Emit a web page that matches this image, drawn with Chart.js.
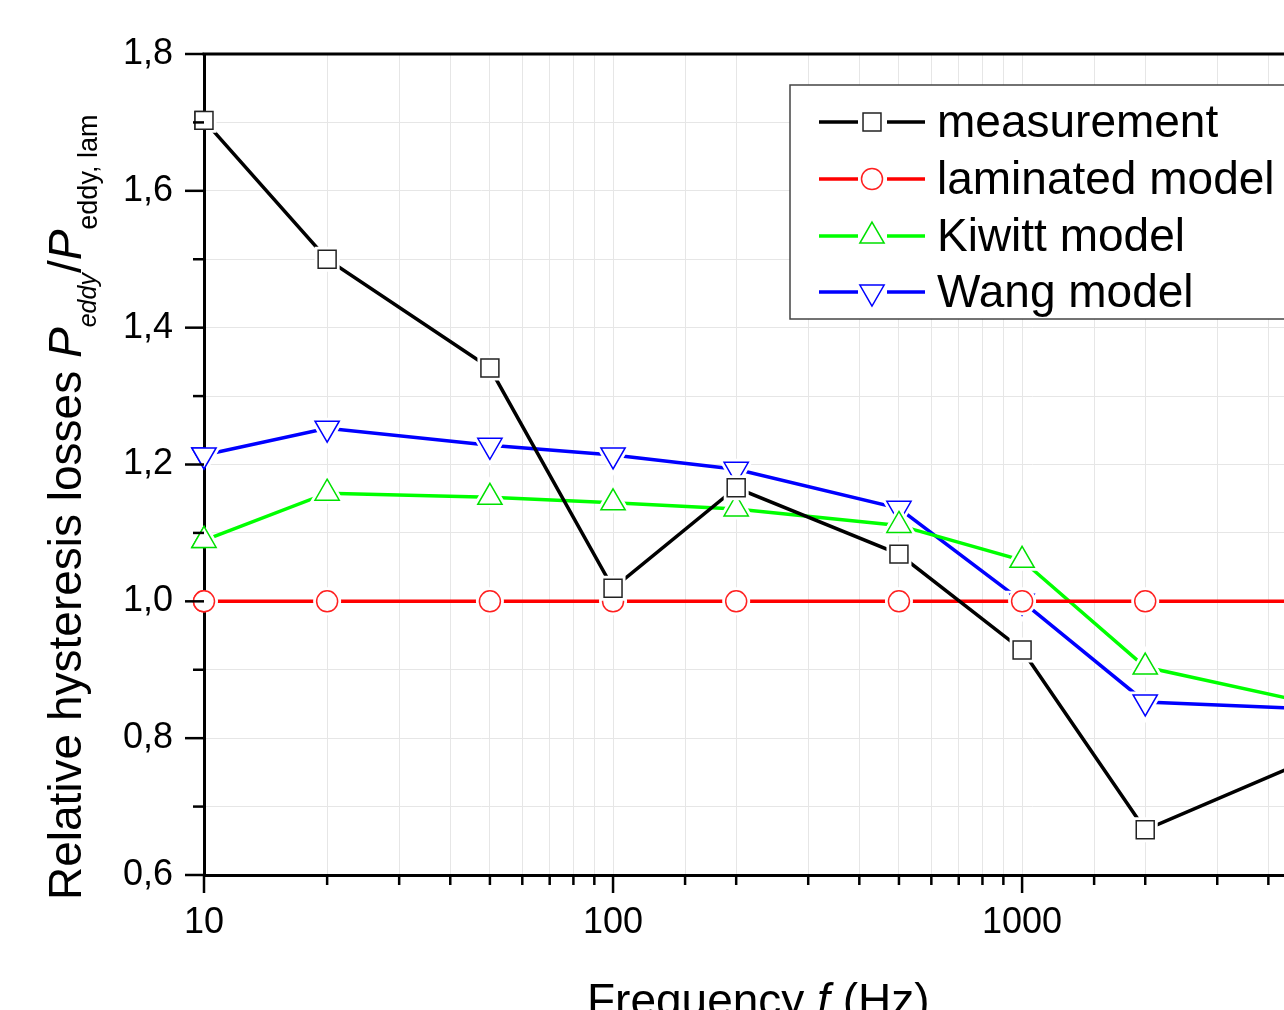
<!DOCTYPE html>
<html lang="en">
<head>
<meta charset="UTF-8">
<title>Relative hysteresis losses</title>
<script src="https://cdn.jsdelivr.net/npm/chart.js"></script>
<style>
  html, body { margin: 0; padding: 0; background: #fff; overflow: hidden; }
  #wrap { width: 1340px; height: 1010px; }
</style>
</head>
<body>
<div id="wrap"><canvas id="myChart" width="1340" height="1010"></canvas></div>
<script>
    // frequencies (Hz)
    const freqs = [10, 20, 50, 100, 200, 500, 1000, 2000, 5000];
    const measurement = [1.703, 1.500, 1.341, 1.019, 1.166, 1.069, 0.929, 0.666, 0.768];
    const laminated   = [1.0, 1.0, 1.0, 1.0, 1.0, 1.0, 1.0, 1.0, 1.0];
    const kiwitt      = [1.089, 1.158, 1.152, 1.144, 1.135, 1.111, 1.060, 0.904, 0.852];
    const wang        = [1.214, 1.253, 1.228, 1.214, 1.193, 1.136, 1.000, 0.853, 0.843];
    const seriesNames = ['measurement', 'laminated model', 'Kiwitt model', 'Wang model'];

    const FONT = '"Liberation Sans", Arial, sans-serif';

    function pts(ys) {
        return freqs.map((f, i) => ({ x: f, y: ys[i] }));
    }
    function isDecade(v) {
        const l = Math.log10(v);
        return Math.abs(l - Math.round(l)) < 1e-9;
    }

    function makeSet(label, data, color, style, radius, rotation, markColor) {
        return {
            label: label,
            data: pts(data),
            borderColor: color,
            borderWidth: 3.5,
            pointStyle: style,
            pointRadius: radius,
            pointHoverRadius: radius,
            pointRotation: rotation,
            pointBorderColor: markColor,
            pointBackgroundColor: '#fff',
            pointBorderWidth: 1.5,
            tension: 0,
            clip: false
        };
    }

    const datasets = [
        makeSet(seriesNames[0], measurement, '#000', 'rect', 12.7, 0, '#222'),
        makeSet(seriesNames[1], laminated, '#ff0000', 'circle', 10.5, 0, '#ff2020'),
        makeSet(seriesNames[2], kiwitt, '#00ff00', 'triangle', 14, 0, '#00e000'),
        makeSet(seriesNames[3], wang, '#0000ff', 'triangle', 14, 180, '#0000ff')
    ];

    function markerOpts(ds) {
        return {
            pointStyle: ds.pointStyle,
            rotation: ds.pointRotation,
            radius: ds.pointRadius,
            borderWidth: ds.pointBorderWidth
        };
    }

    // white halo round the markers so lines stop short of them
    const gaps = {
        id: 'gaps',
        afterDatasetDraw(chart, args) {
            const ctx = chart.ctx;
            const ca = chart.chartArea;
            const ds = chart.data.datasets[args.index];
            ctx.save();
            ctx.beginPath();
            ctx.rect(ca.left + 2, ca.top + 2, ca.right - ca.left - 4, ca.bottom - ca.top - 4);
            ctx.clip();
            args.meta.data.forEach(el => {
                ctx.strokeStyle = '#fff';
                ctx.fillStyle = '#fff';
                ctx.lineWidth = 7;
                Chart.helpers.drawPoint(ctx, markerOpts(ds), el.x, el.y);
            });
            ctx.restore();
            ctx.save();
            args.meta.data.forEach(el => {
                ctx.strokeStyle = ds.pointBorderColor;
                ctx.fillStyle = '#fff';
                ctx.lineWidth = ds.pointBorderWidth;
                Chart.helpers.drawPoint(ctx, markerOpts(ds), el.x, el.y);
            });
            ctx.restore();
        }
    };

    // tick marks, frame top, legend and axis titles
    const decor = {
        id: 'decor',
        afterDraw(chart) {
            const ctx = chart.ctx;
            const ca = chart.chartArea;
            const xs = chart.scales.x, ys = chart.scales.y;
            ctx.save();
            ctx.strokeStyle = '#000';
            ctx.lineWidth = 3;
            // top frame line
            ctx.beginPath();
            ctx.moveTo(ca.left - 1.5, ca.top);
            ctx.lineTo(ca.right, ca.top);
            ctx.stroke();

            // x ticks
            ctx.lineWidth = 2.5;
            xs.ticks.forEach(t => {
                const px = xs.getPixelForValue(t.value);
                const len = isDecade(t.value) ? 18 : 10;
                ctx.beginPath();
                ctx.moveTo(px, ca.bottom);
                ctx.lineTo(px, ca.bottom + len);
                ctx.stroke();
            });
            // y ticks
            ys.ticks.forEach(t => {
                const py = ys.getPixelForValue(t.value);
                const major = Math.round(t.value * 10) % 2 === 0;
                const len = major ? 19 : 11;
                ctx.beginPath();
                ctx.moveTo(ca.left, py);
                ctx.lineTo(ca.left - len, py);
                ctx.stroke();
            });

            // legend box
            ctx.lineWidth = 1.5;
            ctx.strokeStyle = '#444';
            ctx.fillStyle = '#fff';
            ctx.fillRect(790, 85, 510, 234);
            ctx.strokeRect(790, 85, 510, 234);
            const rowsY = [122, 179, 236, 292];
            chart.data.datasets.forEach((ds, i) => {
                const y = rowsY[i];
                ctx.strokeStyle = ds.borderColor;
                ctx.lineWidth = 3.5;
                ctx.beginPath();
                ctx.moveTo(819, y); ctx.lineTo(858, y);
                ctx.moveTo(887, y); ctx.lineTo(925, y);
                ctx.stroke();
                ctx.strokeStyle = ds.pointBorderColor;
                ctx.fillStyle = '#fff';
                ctx.lineWidth = ds.pointBorderWidth;
                Chart.helpers.drawPoint(ctx, markerOpts(ds), 872, y);
                ctx.fillStyle = '#000';
                ctx.font = '46px ' + FONT;
                ctx.textAlign = 'left';
                ctx.textBaseline = 'middle';
                ctx.fillText(ds.label, 937, y + 2);
            });

            // x title
            ctx.fillStyle = '#000';
            ctx.textBaseline = 'alphabetic';
            ctx.textAlign = 'left';
            let x = 587;
            const xParts = [['Frequency ', 'normal'], ['f', 'italic'], [' (Hz)', 'normal']];
            xParts.forEach(p => {
                ctx.font = p[1] + ' 46px ' + FONT;
                ctx.fillText(p[0], x, 1016);
                x += ctx.measureText(p[0]).width;
            });

            // y title (rotated, with subscripts)
            ctx.translate(81, 900);
            ctx.rotate(-Math.PI / 2);
            const yParts = [
                ['Relative hysteresis losses ', 'normal 46px', 0],
                ['P', 'italic 46px', 0],
                ['eddy', 'italic 25px', 15],
                ['/', 'normal 46px', 0],
                ['P', 'italic 46px', 0],
                ['eddy, lam', 'normal 27px', 16]
            ];
            let tx = 0;
            yParts.forEach(p => {
                ctx.font = p[1] + ' ' + FONT;
                ctx.fillText(p[0], tx, p[2]);
                tx += ctx.measureText(p[0]).width;
            });
            ctx.restore();
        }
    };

    const ctx = document.getElementById('myChart').getContext('2d');
    const chart = new Chart(ctx, {
        type: 'line',
        data: { datasets: datasets },
        options: {
            responsive: false,
            animation: false,
            events: [],
            layout: { padding: { top: 54, right: 32, left: 0, bottom: 0 } },
            plugins: {
                legend: { display: false },
                tooltip: { enabled: false }
            },
            scales: {
                x: {
                    type: 'logarithmic',
                    min: 10,
                    max: 5000,
                    afterFit: s => { s.height = 135; },
                    grid: { color: '#e6e6e6', lineWidth: 1, drawTicks: false },
                    border: { display: true, color: '#000', width: 3 },
                    ticks: {
                        autoSkip: false,
                        maxRotation: 0,
                        padding: 26,
                        color: '#000',
                        font: { family: FONT, size: 36 },
                        callback: v => isDecade(v) ? String(Math.round(v)) : ''
                    }
                },
                y: {
                    min: 0.6,
                    max: 1.8,
                    afterFit: s => { s.width = 204; },
                    grid: { color: '#e6e6e6', lineWidth: 1, drawTicks: false },
                    border: { display: true, color: '#000', width: 3 },
                    ticks: {
                        stepSize: 0.1,
                        autoSkip: false,
                        padding: 31,
                        color: '#000',
                        font: { family: FONT, size: 36 },
                        callback: v => Math.round(v * 10) % 2 === 0 ? v.toFixed(1).replace('.', ',') : ''
                    }
                }
            }
        },
        plugins: [gaps, decor]
    });
</script>
</body>
</html>
